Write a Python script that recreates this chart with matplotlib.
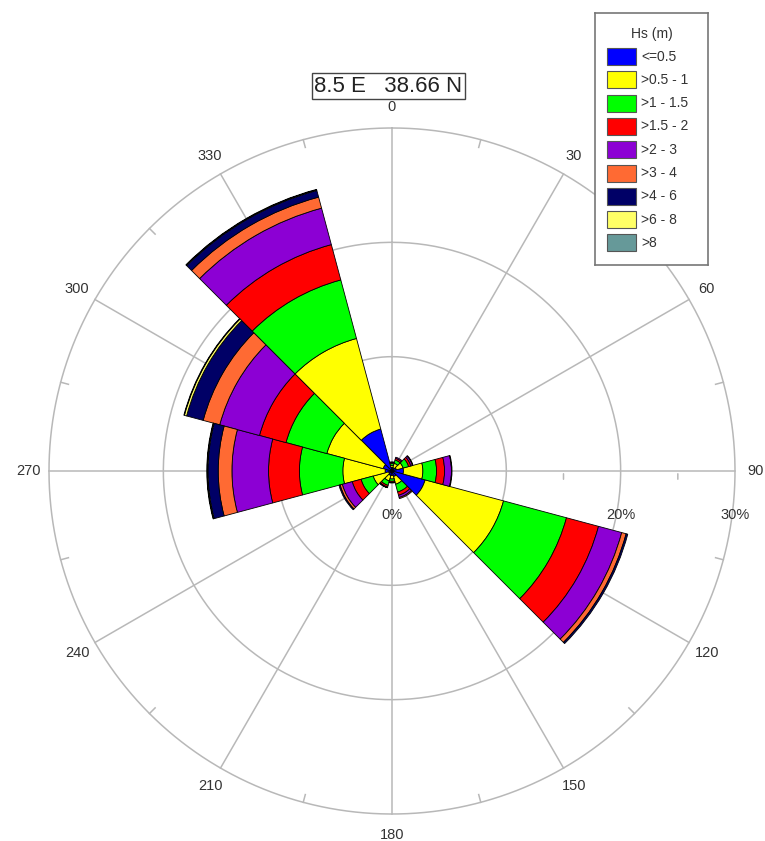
import numpy as np
import matplotlib.pyplot as plt

plt.rcParams['font.family'] = ['Liberation Sans', 'DejaVu Sans']

# wave directions (deg) and percentage of occurrence per Hs class
directions = [0, 30, 60, 90, 120, 150, 180, 210, 240, 270, 300, 330]
hs_labels = ['<=0.5', '>0.5 - 1', '>1 - 1.5', '>1.5 - 2', '>2 - 3',
             '>3 - 4', '>4 - 6', '>6 - 8', '>8']
hs_colors = ['#0000ff', '#ffff00', '#00ff00', '#ff0000', '#8c00d4',
             '#ff6a33', '#000066', '#ffff66', '#669999']

hs_le05 = [0.3, 0.3, 0.4, 1.0, 3.0, 0.5, 0.4, 0.4, 0.3, 0.6, 0.8, 3.8]
hs_05_1 = [0.2, 0.4, 0.6, 1.7, 7.1, 0.7, 0.3, 0.5, 1.4, 3.7, 5.1, 8.2]
hs_1_15 = [0.15, 0.3, 0.5, 1.2, 5.7, 0.7, 0.2, 0.4, 1.1, 3.8, 3.7, 5.3]
hs_15_2 = [0.1, 0.15, 0.2, 0.7, 2.9, 0.3, 0.1, 0.15, 0.8, 2.7, 2.4, 3.2]
hs_2_3 = [0.05, 0.1, 0.15, 0.6, 2.1, 0.2, 0.05, 0.05, 0.9, 3.2, 3.6, 3.3]
hs_3_4 = [0, 0, 0.05, 0.05, 0.4, 0.1, 0, 0.02, 0.2, 1.2, 1.5, 1.0]
hs_4_6 = [0, 0, 0, 0, 0.15, 0, 0, 0, 0.1, 0.9, 1.5, 0.6]
hs_6_8 = [0, 0, 0, 0, 0, 0, 0, 0, 0, 0.05, 0.2, 0.05]
hs_gt8 = [0, 0, 0, 0, 0, 0, 0, 0, 0, 0.05, 0.05, 0.05]
hs_table = [hs_le05, hs_05_1, hs_1_15, hs_15_2, hs_2_3, hs_3_4, hs_4_6, hs_6_8, hs_gt8]

ring_pct = [10, 20, 30]
ring_labels = {0: '0%', 10: '10%', 20: '20%', 30: '30%'}

W, H = 765, 841
fig = plt.figure(figsize=(W / 100, H / 100), dpi=100)
cx, cy, R = 392, 471, 343
ax = fig.add_axes([(cx - R) / W, (H - cy - R) / H, 2 * R / W, 2 * R / H], projection='polar')
ax.set_theta_zero_location('N')
ax.set_theta_direction(-1)
ax.set_ylim(0, 30)
ax.axis('off')

grid_col = '#b8b8b8'
tt = np.linspace(0, 2 * np.pi, 500)
for r in ring_pct:
    ax.plot(tt, np.full_like(tt, r), color=grid_col, lw=1.1, zorder=0, clip_on=False)
for d in range(0, 360, 30):
    ax.plot([np.radians(d)] * 2, [0, 30], color=grid_col, lw=1.1, zorder=0, clip_on=False)
    # direction labels
    ax.text(np.radians(d), 31.8, str(d), ha='center', va='center', fontsize=10.5,
            color='#333333', clip_on=False)
# small inward ticks on the outer ring
for d in range(15, 360, 30):
    ax.plot([np.radians(d)] * 2, [29.3, 30], color=grid_col, lw=1.1, zorder=0, clip_on=False)
# ticks on the 90 deg axis
for r in [5, 15, 25]:
    ax.annotate('', xy=(np.pi / 2, r), xytext=(0, -11), textcoords='offset pixels',
                arrowprops=dict(arrowstyle='-', color=grid_col, lw=1.1), zorder=0)
for r, lab in ring_labels.items():
    ax.annotate(lab, xy=(np.pi / 2, r), xytext=(0, -44), textcoords='offset pixels',
                ha='center', va='center', fontsize=10.5, color='#333333', zorder=0.5)

# stacked rose sectors
theta = np.radians(directions)
bottom = np.zeros(len(directions))
for vals, col in zip(hs_table, hs_colors):
    h = np.array(vals, dtype=float)
    m = h > 0
    ax.bar(theta[m], h[m], width=np.radians(30), bottom=bottom[m], color=col,
           edgecolor='black', linewidth=0.6, align='center', zorder=2)
    bottom += h

# location box
fig.text(388.5 / W, 1 - 86 / H, '8.5 E   38.66 N', ha='center', va='center', fontsize=16,
         color='#222222',
         bbox=dict(boxstyle='square,pad=0.12', fc='white', ec='#444444', lw=1))

# legend drawn in pixel units
lx0, ly0, lx1, ly1 = 595, 13, 708, 265
lax = fig.add_axes([lx0 / W, 1 - ly1 / H, (lx1 - lx0) / W, (ly1 - ly0) / H])
lax.set_xlim(0, lx1 - lx0)
lax.set_ylim(ly1 - ly0, 0)
lax.set_xticks([])
lax.set_yticks([])
for s in lax.spines.values():
    s.set_color('#777777')
    s.set_linewidth(1.2)
lax.text(57, 21, 'Hs (m)', ha='center', va='center', fontsize=10, color='#333333')
for i, (lab, col) in enumerate(zip(hs_labels, hs_colors)):
    yc = 43.5 + i * 23.3
    lax.add_patch(plt.Rectangle((12, yc - 8.5), 29, 17, fc=col, ec='#555555', lw=0.8))
    lax.text(46, yc, lab, ha='left', va='center', fontsize=10, color='#333333')

fig.savefig('out.png', dpi=100)
